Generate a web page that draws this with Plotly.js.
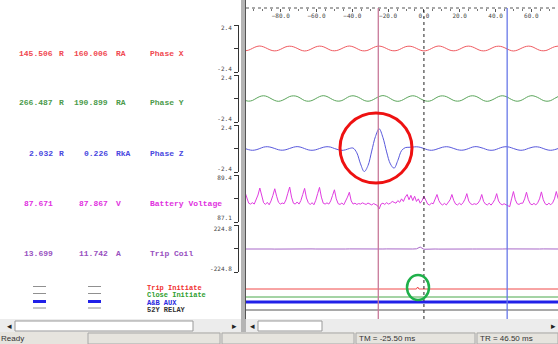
<!DOCTYPE html>
<html>
<head>
<meta charset="utf-8">
<script src="https://cdn.plot.ly/plotly-3.0.1.min.js"></script>
<style>
  html, body { margin: 0; padding: 0; background: #fff; overflow: hidden; }
  #chart { width: 558px; height: 344px; }
</style>
</head>
<body>
<div id="chart"></div>
<script>
// ---- recorded channels (time in ms, sampled from -100 ms) ----
const startTime = -100;
const phaseStep = 2.0833;     // ms between analog phase samples
const batteryStep = 1.0417;   // ms between battery samples

const channelNames = ['Phase X', 'Phase Y', 'Phase Z', 'Battery Voltage', 'Trip Coil'];
const readingA = ['145.506', '266.487', '2.032', '87.671', '13.699'];
const unitA = ['R', 'R', 'R', '', ''];
const readingB = ['160.006', '190.899', '0.226', '87.867', '11.742'];
const unitB = ['RA', 'RA', 'RkA', 'V', 'A'];
const scaleTop = [2.4, 2.4, 2.4, 89.4, 224.8];
const scaleBottom = [-2.4, -2.4, -2.4, 87.1, -224.8];

const phaseX = [
  -0.27, -0.19, 0.01, 0.21, 0.29, 0.19, -0.01, -0.2,
  -0.28, -0.2, 0.0, 0.2, 0.27, 0.2, 0.02, -0.19,
  -0.29, -0.21, -0.01, 0.19, 0.28, 0.21, 0.01, -0.2,
  -0.27, -0.19, 0.0, 0.2, 0.29, 0.2, 0.0, -0.21,
  -0.28, -0.2, 0.01, 0.21, 0.28, 0.19, -0.01, -0.2,
  -0.27, -0.2, 0.0, 0.2, 0.27, 0.2, 0.01, -0.19,
  -0.28, -0.21, -0.01, 0.2, 0.29, 0.2, 0.0, -0.2,
  -0.27, -0.19, 0.01, 0.21, 0.28, 0.19, -0.01, -0.21,
  -0.28, -0.2, 0.0, 0.2, 0.27, 0.2, 0.01, -0.19,
  -0.29, -0.2, 0.0, 0.19, 0.28, 0.21, 0.0, -0.2,
  -0.27, -0.2, 0.01, 0.2, 0.28
];

const phaseY = [
  -0.22, -0.31, -0.23, 0.01, 0.23, 0.32, 0.22, -0.01,
  -0.23, -0.33, -0.22, 0.0, 0.23, 0.31, 0.24, 0.01,
  -0.24, -0.32, -0.23, -0.01, 0.22, 0.33, 0.23, 0.0,
  -0.22, -0.31, -0.24, 0.0, 0.24, 0.32, 0.22, 0.01,
  -0.23, -0.32, -0.22, 0.01, 0.23, 0.34, 0.24, 0.0,
  -0.24, -0.33, -0.23, 0.0, 0.22, 0.32, 0.23, -0.01,
  -0.22, -0.32, -0.24, 0.01, 0.24, 0.31, 0.22, 0.0,
  -0.23, -0.31, -0.23, 0.0, 0.23, 0.32, 0.24, 0.01,
  -0.24, -0.33, -0.22, -0.01, 0.22, 0.32, 0.23, 0.0,
  -0.22, -0.32, -0.23, 0.0, 0.24, 0.33, 0.22, 0.01,
  -0.23, -0.32, -0.24, 0.0, 0.23
];

const phaseZ = [
  0.01, -0.14, -0.21, -0.15, 0.0, 0.16, 0.21, 0.14,
  0.0, -0.15, -0.2, -0.14, 0.01, 0.15, 0.22, 0.15,
  -0.01, -0.16, -0.21, -0.15, 0.0, 0.14, 0.21, 0.16,
  0.0, -0.14, -0.22, -0.15, 0.0, 0.05, -0.5, -1.8,
  -2.7, -2.0, -0.3, 1.4, 2.3, 1.3, -0.4, -1.8,
  -2.3, -1.4, -0.25, 0.1, 0.14, 0.17, 0.2, 0.14,
  0.0, -0.15, -0.21, -0.14, 0.01, 0.15, 0.21, 0.15,
  0.0, -0.14, -0.2, -0.15, 0.0, 0.16, 0.22, 0.14,
  0.01, -0.15, -0.21, -0.16, 0.0, 0.15, 0.21, 0.15,
  0.0, -0.14, -0.21, -0.15, 0.01, 0.14, 0.2, 0.15,
  0.0, -0.15, -0.21, -0.14, 0.0
];

const tripCoil = [
  0, 1, 0, -1, 0, 1, 0, 0, -1, 0,
  1, 0, 0, -1, 0, 1, 0, 0, 1, 0,
  -1, 0, 0, 1, 0, -1, 0, 0, 1, 0,
  0, -1, 0, 1, 0, 0, -1, 0, 1, 0,
  0, -1, 0, 1, 0, 0, 2, 22, -3, 0,
  1, 0, -1, 0, 0, 1, 0, -1, 0, 0,
  1, 0, 0, -1, 0, 1, 0, 0, -1, 0,
  1, 0, 0, -1, 0, 1, 0, 0, -1, 0,
  1, 0, -1, 0, 0
];

const batteryVoltage = [
  88.6, 88.2, 87.95, 87.9, 87.98, 87.9, 88.12, 88.42,
  88.82, 88.3, 87.98, 87.88, 88.0, 87.86, 88.08, 88.4,
  88.78, 88.35, 88.0, 87.9, 87.96, 87.92, 88.14, 88.52,
  88.88, 88.3, 87.95, 87.9, 88.02, 87.9, 88.1, 88.45,
  88.8, 88.25, 87.98, 87.87, 87.98, 87.86, 88.12, 88.5,
  88.86, 88.3, 87.95, 87.9, 87.97, 87.9, 88.08, 88.4,
  88.72, 88.2, 87.92, 87.88, 87.96, 87.86, 88.04, 88.3,
  88.58, 88.08, 87.9, 87.95, 87.88, 87.93, 87.9, 87.97,
  87.92, 87.88, 87.96, 87.9, 87.85, 87.93, 87.88, 87.82,
  87.62, 87.9, 87.95, 87.88, 87.98, 87.9, 87.95, 88.05,
  88.0, 87.95, 88.1, 88.0, 88.2, 88.05, 88.3, 88.45,
  88.15, 88.4, 88.1, 88.35, 88.05, 88.2, 87.95, 88.1,
  88.35, 88.1, 87.9, 87.85, 87.95, 87.92, 88.15, 88.45,
  88.1, 87.92, 87.85, 87.94, 87.85, 87.98, 88.14, 88.45,
  88.1, 87.9, 87.85, 87.95, 87.86, 87.98, 88.18, 88.5,
  88.08, 87.92, 87.87, 87.92, 87.88, 87.95, 88.12, 88.45,
  88.05, 87.9, 87.85, 87.95, 87.84, 87.98, 88.16, 88.5,
  88.08, 87.92, 87.86, 87.92, 87.85, 87.8, 87.75, 88.2,
  88.62, 88.15, 87.92, 87.88, 87.95, 87.95, 88.2, 88.58,
  88.15, 87.92, 87.86, 87.94, 87.85, 87.97, 88.2, 88.6,
  88.15, 87.92, 87.85, 87.95, 87.86, 87.97, 88.2, 88.62,
  88.2
];

// digital channels: state changes at the listed times
const digitalNames = ['Trip Initiate', 'Close Initiate', 'A&B AUX', '52Y RELAY'];
const digitalTimes = [-100, -4.2, -3.5, -2.8, 75];
const tripInitiate = [0, 0, 1, 0, 0];
const closeInitiate = [0, 0, 0, 0, 0];
const abAux = [0, 0, 0, 0, 0];
const relay52Y = [0, 0, 0, 0, 0];

// cursors (ms)
const cursorTM = -25.5;
const cursorTR = 46.5;

// ---- page geometry (pixels) ----
const W = 558, H = 344;
const px = v => v / W;
const py = v => 1 - v / H;

const analogColors = ['#f05a60', '#5aa55a', '#5858dc', '#e03ce0', '#a868c8'];
const labelColors = ['#f04850', '#4a9a4a', '#4848e0', '#e030e0', '#9850c0'];
const digitalColors = ['#f04848', '#4aa84a', '#2020e8', '#555555'];
const digitalLabelColors = ['#f03030', '#30a030', '#2828e0', '#333333'];
const digitalWidths = [1, 1, 3, 1];

const analogBands = [[25, 72], [75, 122], [125, 172], [175, 222], [225, 272]];
const analogRanges = [[-2.75, 2.75], [-2.75, 2.75], [-2.75, 2.75], [86.87, 89.57], [-258.5, 269.8]];
const digitalRows = [289, 297, 302, 310];
const digitalLabelRows = [288, 295.3, 302.6, 310];
const indicatorRows = [286.5, 293.5, 301.5, 308];
const rowCenters = [53, 103, 153, 203, 253];
const axisX = 238;

const analogSeries = [
  { y: phaseX, dx: phaseStep, shape: 'spline' },
  { y: phaseY, dx: phaseStep, shape: 'spline' },
  { y: phaseZ, dx: phaseStep, shape: 'spline' },
  { y: batteryVoltage, dx: batteryStep, shape: 'linear' },
  { y: tripCoil, dx: phaseStep, shape: 'linear' }
];
const digitalSeries = [tripInitiate, closeInitiate, abAux, relay52Y];

const traces = [];
const layout = {
  width: W, height: H,
  margin: { l: 0, r: 0, t: 0, b: 0 },
  paper_bgcolor: '#ffffff', plot_bgcolor: '#ffffff',
  showlegend: false,
  xaxis: {
    domain: [px(246), 1],
    range: [-99.4, 74.9],
    anchor: 'free', position: py(8), side: 'top',
    tick0: 0, dtick: 20, tickformat: '.1f',
    ticks: 'inside', ticklen: 3, tickcolor: '#555',
    ticklabelposition: 'inside',
    tickfont: { family: 'DejaVu Sans Mono', size: 6, color: '#444' },
    showline: false, showgrid: false, zeroline: false,
    minor: { dtick: 5, ticks: 'inside', ticklen: 2, tickcolor: '#777' }
  },
  shapes: [],
  annotations: []
};

const monoFont = (c, s) => ({ family: 'Liberation Mono', size: s || 8, color: c, weight: 'bold' });

analogSeries.forEach((s, i) => {
  const key = i === 0 ? 'yaxis' : 'yaxis' + (i + 1);
  const ref = i === 0 ? 'y' : 'y' + (i + 1);
  const [lo, hi] = analogRanges[i];
  const [top, bot] = analogBands[i];
  layout[key] = {
    domain: [py(bot), py(top)],
    range: [lo, hi],
    anchor: 'free', position: px(axisX), side: 'left',
    showline: true, linecolor: '#333', linewidth: 1,
    tickmode: 'array',
    tickvals: [scaleTop[i], scaleBottom[i]],
    ticktext: [String(scaleTop[i]), String(scaleBottom[i])],
    ticks: 'outside', ticklen: 5, tickcolor: 'rgba(0,0,0,0)',
    tickfont: { family: 'DejaVu Sans Mono', size: 6, color: '#444' },
    minor: { tickmode: 'array', tickvals: [lo, (lo + hi) / 2, hi], ticks: 'outside', ticklen: 4, tickcolor: '#333', tickwidth: 1 },
    showgrid: false, zeroline: false
  };
  traces.push({
    type: 'scatter', mode: 'lines',
    x0: startTime, dx: s.dx, y: s.y,
    xaxis: 'x', yaxis: ref,
    line: { color: analogColors[i], width: 1, shape: s.shape }
  });

  // readings and channel name in the left panel
  const yy = py(rowCenters[i]);
  const c = labelColors[i];
  const items = [
    { text: readingA[i], x: px(55), xanchor: 'right' },
    { text: unitA[i], x: px(57), xanchor: 'left' },
    { text: readingB[i], x: px(110), xanchor: 'right' },
    { text: unitB[i], x: px(114), xanchor: 'left' },
    { text: channelNames[i], x: px(148), xanchor: 'left' }
  ];
  items.filter(a => a.text).forEach(a => layout.annotations.push(Object.assign(a, {
    y: yy, xref: 'paper', yref: 'paper', yanchor: 'middle', showarrow: false, font: monoFont(c)
  })));
});

digitalSeries.forEach((states, j) => {
  const n = 6 + j;
  const key = 'yaxis' + n;
  const row = digitalRows[j];
  layout[key] = {
    domain: [py(row + 3), py(row - 3)],
    range: [-1.5, 1.5], visible: false, fixedrange: true
  };
  traces.push({
    type: 'scatter', mode: 'lines',
    x: digitalTimes, y: states,
    xaxis: 'x', yaxis: 'y' + n,
    line: { color: digitalColors[j], width: digitalWidths[j] }
  });
  layout.annotations.push({
    text: digitalNames[j], x: px(146), y: py(digitalLabelRows[j]), xanchor: 'left', yanchor: 'middle',
    xref: 'paper', yref: 'paper', showarrow: false, borderpad: 0,
    font: monoFont(digitalLabelColors[j], 7)
  });
  // state indicators for the two reading columns
  [[33, 46], [88, 101]].forEach(([a, b]) => {
    layout.shapes.push({
      type: 'line', xref: 'paper', yref: 'paper',
      x0: px(a), x1: px(b), y0: py(indicatorRows[j]), y1: py(indicatorRows[j]),
      line: { color: j === 2 ? '#2020e8' : '#909090', width: j === 2 ? 3 : 1 }
    });
  });
});

// top time axis line
layout.shapes.push({
  type: 'line', xref: 'paper', yref: 'paper', x0: px(246), x1: 1, y0: py(8), y1: py(8),
  line: { color: '#555', width: 1, dash: 'dot' }
});

// trigger and cursor lines
layout.shapes.push(
  { type: 'line', xref: 'x', yref: 'paper', x0: 0, x1: 0, y0: py(319), y1: py(8),
    line: { color: '#222', width: 1, dash: 'dot' } },
  { type: 'line', xref: 'x', yref: 'paper', x0: cursorTM, x1: cursorTM, y0: py(319), y1: py(8),
    line: { color: '#c87898', width: 1.3 } },
  { type: 'line', xref: 'x', yref: 'paper', x0: cursorTR, x1: cursorTR, y0: py(319), y1: py(8),
    line: { color: '#6878e8', width: 1.3 } }
);

// highlight rings
layout.shapes.push(
  { type: 'circle', xref: 'paper', yref: 'paper', layer: 'above',
    x0: px(340), x1: px(412), y0: py(183), y1: py(113),
    line: { color: '#ee1111', width: 3 } },
  { type: 'circle', xref: 'paper', yref: 'paper', layer: 'above',
    x0: px(407), x1: px(429), y0: py(300), y1: py(275),
    line: { color: '#1fb04a', width: 2.5 } }
);

// splitter between the panels
layout.shapes.push(
  { type: 'rect', xref: 'paper', yref: 'paper', layer: 'above',
    x0: px(241), x1: px(246), y0: py(332), y1: 1, fillcolor: '#b4b4b4', line: { width: 0 } },
  { type: 'line', xref: 'paper', yref: 'paper', layer: 'above',
    x0: px(245.5), x1: px(245.5), y0: py(332), y1: 1, line: { color: '#555', width: 1 } }
);

// scroll bars
layout.shapes.push(
  { type: 'rect', xref: 'paper', yref: 'paper', layer: 'above',
    x0: 0, x1: 1, y0: py(332), y1: py(319), fillcolor: '#ececec', line: { width: 0 } },
  { type: 'rect', xref: 'paper', yref: 'paper', layer: 'above',
    x0: px(15), x1: px(193), y0: py(331), y1: py(321), fillcolor: '#ffffff', line: { color: '#999', width: 1 } },
  { type: 'rect', xref: 'paper', yref: 'paper', layer: 'above',
    x0: px(258), x1: px(322), y0: py(331), y1: py(321), fillcolor: '#ffffff', line: { color: '#999', width: 1 } },
  { type: 'rect', xref: 'paper', yref: 'paper', layer: 'above',
    x0: px(241), x1: px(246), y0: py(332), y1: py(319), fillcolor: '#b4b4b4', line: { width: 0 } }
);
[[9, '◂'], [234, '▸'], [252, '◂'], [553, '▸']].forEach(([x, t]) => {
  layout.annotations.push({ text: t, x: px(x), y: py(326), xref: 'paper', yref: 'paper',
    xanchor: 'center', yanchor: 'middle', showarrow: false,
    font: { family: 'DejaVu Sans', size: 9, color: '#222' } });
});

// status bar
layout.shapes.push(
  { type: 'rect', xref: 'paper', yref: 'paper', layer: 'above',
    x0: 0, x1: 1, y0: 0, y1: py(332), fillcolor: '#e6e4de', line: { width: 0 } }
);
[[88, 220], [222, 354], [356, 475], [477, 558]].forEach(([a, b]) => {
  layout.shapes.push({ type: 'rect', xref: 'paper', yref: 'paper', layer: 'above',
    x0: px(a), x1: px(b), y0: py(344), y1: py(333), fillcolor: '#e6e4de',
    line: { color: '#a8a8a8', width: 1 } });
});
const statusTexts = [
  ['Ready', -1],
  ['TM = ' + cursorTM.toFixed(2) + ' ms', 357],
  ['TR = ' + cursorTR.toFixed(2) + ' ms', 478]
];
statusTexts.forEach(([t, x]) => {
  layout.annotations.push({ text: t, x: px(x), y: py(338.5), xref: 'paper', yref: 'paper',
    xanchor: 'left', yanchor: 'middle', showarrow: false,
    font: { family: 'Liberation Sans', size: 8, color: '#333' } });
});

Plotly.newPlot('chart', traces, layout, { staticPlot: true, displayModeBar: false });
</script>
</body>
</html>
